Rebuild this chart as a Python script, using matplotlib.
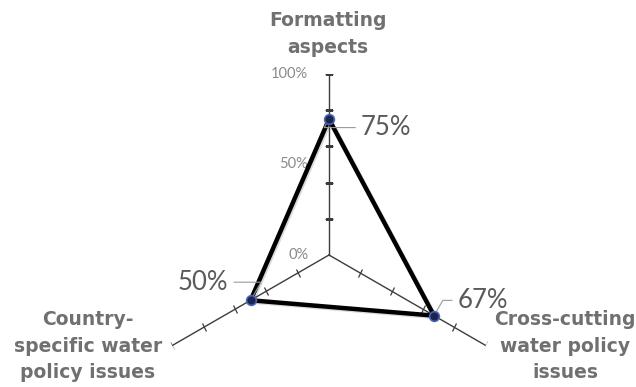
import numpy as np
import matplotlib
matplotlib.use("Agg")
import matplotlib.pyplot as plt
from matplotlib.markers import MarkerStyle
from matplotlib.transforms import Affine2D
import matplotlib.patheffects as pe

categories = ["Formatting\naspects", "Cross-cutting\nwater policy\nissues", "Country-\nspecific water\npolicy issues"]
values = [0.75, 0.67, 0.50]
value_labels = ["75%", "67%", "50%"]
tick_values = [0.2, 0.4, 0.6, 0.8, 1.0]
tick_labels = {0.0: "0%", 0.5: "50%", 1.0: "100%"}

angles = np.array([0, 120, 240]) * np.pi / 180

fig = plt.figure(figsize=(6.36, 3.87), dpi=100)
fig.patch.set_facecolor("white")
cx, cy, R = 329, 387 - 255, 181
ax = fig.add_axes([(cx - R) / 636, (cy - R) / 387, 2 * R / 636, 2 * R / 387], projection="polar")
ax.set_theta_zero_location("N")
ax.set_theta_direction(-1)
ax.set_ylim(0, 1)
ax.grid(False)
ax.spines["polar"].set_visible(False)
ax.set_xticks([])
ax.set_yticks([])
ax.patch.set_alpha(0)

axis_col = "#3c3c3c"
# spokes + tick marks
for a in angles:
    ax.plot([a, a], [0, 1], color=axis_col, lw=1.0, zorder=1)
    screen_deg = (90 - np.degrees(a) + 90) % 180
    m = MarkerStyle("_", transform=Affine2D().rotate_deg(screen_deg)) if screen_deg else "_"
    ax.plot([a] * len(tick_values), tick_values, ls="none", marker=m, ms=6,
            mec=axis_col, mew=0.9, zorder=1)

# radial tick labels on top spoke
for v, t in tick_labels.items():
    ax.annotate(t, xy=(0, v), xytext=(-15, 0), textcoords="offset points",
                ha="right", va="center", fontsize=10.5, color="#8a8a8a",
                fontfamily=["Lato", "DejaVu Sans"])

# data polygon
th = np.append(angles, angles[0])
rr = np.append(values, values[0])
ax.plot(th, rr, color="black", lw=3.2, solid_joinstyle="miter", zorder=3,
        path_effects=[pe.SimpleLineShadow(offset=(1, -1), alpha=0.15), pe.Normal()])
ax.plot(angles, values, ls="none", marker="o", ms=7, mfc="#1c2450",
        mec="#4a64b8", mew=1.2, zorder=4)

# data labels with leader lines
offsets = [(23, -6), (17, 11), (-16, 13)]
has = ["left", "left", "right"]
for a, v, t, off, h in zip(angles, values, value_labels, offsets, has):
    ax.annotate(t, xy=(a, v), xytext=off, textcoords="offset points",
                ha=h, va="center", fontsize=18.5, color="#5a5a5a",
                fontfamily=["Lato", "DejaVu Sans"],
                arrowprops=dict(arrowstyle="-", color="#9a9a9a", lw=0.8,
                                shrinkA=2, shrinkB=4,
                                connectionstyle="angle,angleA=0,angleB=60,rad=0"))

# category labels
lab_kw = dict(fontsize=13.5, fontweight="bold", color="#707070", ha="center",
              linespacing=1.5, family="DejaVu Sans")
fig.text(328 / 636, 1 - 34 / 387, categories[0], va="center", **lab_kw)
fig.text(565 / 636, 1 - 346 / 387, categories[1], va="center", **lab_kw)
fig.text(88 / 636, 1 - 346 / 387, categories[2], va="center", **lab_kw)

fig.savefig("out.png", dpi=100, facecolor="white")
